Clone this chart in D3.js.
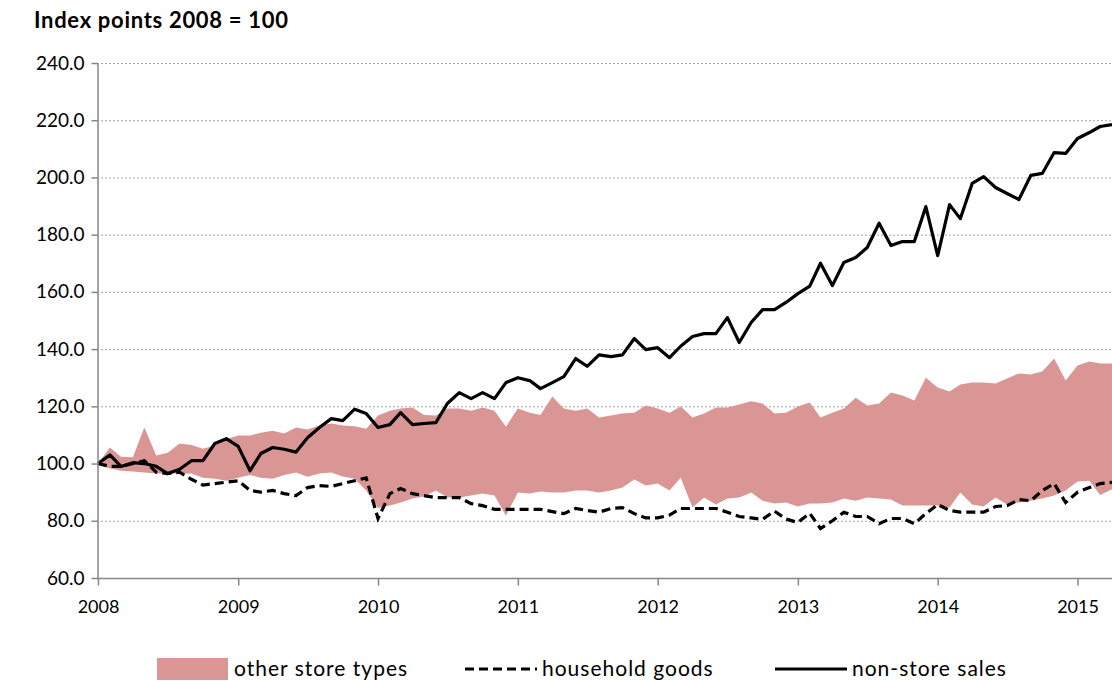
<!DOCTYPE html>
<html>
<head>
<meta charset="utf-8">
<script src="https://cdn.jsdelivr.net/npm/d3@7"></script>
<style>
  html, body { margin: 0; padding: 0; background: #fff; }
  svg { display: block; font-family: Lato, 'Open Sans', sans-serif; }
</style>
</head>
<body>
<div id="chart"></div>
<script>
// monthly index, Jan 2008 .. Apr 2015 (2008 = 100)
const startMonth = new Date(2008, 0, 1);
const endMonth = new Date(2015, 3, 1);

const nonStoreSales = [
  100, 103, 99, 100.3, 100, 99, 96.5, 98, 101, 101, 107, 108.7,
  106, 97.5, 103.5, 105.6, 105, 104, 109, 112.6, 115.7, 115, 119, 117.5,
  112.6, 113.6, 117.8, 113.6, 114, 114.3, 121, 124.8, 122.7, 124.8, 122.7, 128.3,
  130, 129, 126.2, 128.3, 130.4, 136.7, 134, 138, 137.4, 138, 143.7, 139.8,
  140.5, 137, 141, 144.4, 145.4, 145.4, 151, 142.3, 149.3, 153.8, 153.8, 156.3,
  159.4, 162, 170, 162.2, 170.3, 172, 175.5, 184, 176.2, 177.6, 177.6, 189.8,
  172.7, 190.5, 185.6, 197.9, 200.3, 196.5, 194.4, 192.3, 200.7, 201.4, 208.7, 208.4,
  213.6, 215.7, 217.8, 218.5
];

const householdGoods = [
  100, 99, 99, 100, 101, 97, 96.5, 97, 94.5, 92.5, 93, 93.5,
  94, 90.6, 90, 90.6, 89.5, 88.8, 91.6, 92.3, 92, 93, 94, 95,
  80.8, 89.5, 91.3, 89.5, 88.8, 88.1, 88.1, 88.1, 86, 85.3, 84, 84,
  84, 84, 84, 83.2, 82.5, 84.3, 83.6, 83, 84.3, 84.6, 82.5, 81,
  81, 82, 84.3, 84.3, 84.3, 84.3, 83, 81.5, 81, 80.5, 83.4, 80.6,
  79.4, 82.6, 77.3, 80, 83, 81.5, 81.5, 79, 80.8, 80.8, 79, 82.5,
  85.7, 83.6, 83, 83, 83, 85, 85.3, 87.4, 87, 90.6, 93, 86.4,
  90, 91.6, 93, 93.4
];

// range of the other store types (top and bottom of the band)
const otherStoreHigh = [
  100, 105.6, 102.4, 102.2, 112.6, 102.8, 103.8, 107, 106.5, 105.2, 106.3, 108.5,
  109.8, 109.8, 110.8, 111.5, 110.5, 112.6, 111.9, 113.3, 114, 113.3, 113, 112.2,
  116.8, 118.5, 119.2, 119.6, 117, 116.8, 119.2, 119.2, 118.5, 119.6, 118.5, 112.9,
  119.2, 117.8, 117, 123.4, 119.2, 118.5, 119.2, 116.1, 116.8, 117.5, 117.8, 120.3,
  119.2, 117.8, 119.9, 116.1, 117.5, 119.6, 119.6, 120.6, 121.8, 121, 117.5, 117.8,
  119.9, 121.3, 116.1, 117.8, 119.2, 123, 120.3, 121, 124.8, 123.8, 122, 130,
  126.6, 125.2, 127.6, 128.3, 128.3, 128, 129.7, 131.5, 131.1, 132.2, 136.7, 129,
  134.3, 135.7, 135, 135
];

const otherStoreLow = [
  99.5, 98.3, 97.5, 97.2, 96.9, 96.5, 96.5, 96.5, 96.5, 95, 94.7, 94,
  95, 96, 95, 94.7, 96, 96.9, 95.4, 96.5, 96.9, 95.5, 94.7, 90.6,
  84.5, 85.3, 86.4, 87.8, 88.5, 90.6, 88.1, 88.1, 88.8, 89.5, 88.8, 81.8,
  89.9, 89.5, 90.2, 89.9, 89.9, 90.6, 90.6, 89.9, 90.6, 91.6, 94.4, 92.3,
  93, 90.6, 95, 84.6, 88.1, 85.7, 87.8, 88.1, 89.9, 87, 86, 86.4,
  85, 86, 86, 86.4, 87.8, 87, 88.1, 87.8, 87.4, 85.3, 85.3, 85.3,
  85.3, 84.6, 89.9, 85.7, 85, 88.1, 85.7, 86.4, 87, 87.8, 88.8, 90.6,
  93.7, 94, 89, 91
];

const yTicks = [60, 80, 100, 120, 140, 160, 180, 200, 220, 240];
const yearLabels = ['2008', '2009', '2010', '2011', '2012', '2013', '2014', '2015'];

const legendItems = [
  { key: 'band', label: 'other store types' },
  { key: 'dashed', label: 'household goods' },
  { key: 'solid', label: 'non-store sales' }
];

const PINK = '#d99694';
const width = 1112;
const height = 681;

const months = d3.timeMonth.range(startMonth, d3.timeMonth.offset(endMonth, 1));
const rows = months.map((date, i) => ({
  date,
  nonStore: nonStoreSales[i],
  household: householdGoods[i],
  high: otherStoreHigh[i],
  low: otherStoreLow[i]
}));

const svg = d3.select('#chart').append('svg').attr('width', width).attr('height', height);

const x = d3.scaleTime().domain([startMonth, endMonth]).range([98, 1112]);
const y = d3.scaleLinear().domain([60, 240]).range([578, 63]);

svg.append('text')
  .attr('x', 34)
  .attr('y', 28)
  .attr('font-size', 22)
  .attr('font-weight', 700)
  .attr('letter-spacing', 0.7)
  .attr('fill', '#000')
  .text('Index points 2008 = 100');

// dotted gridlines
svg.append('g')
  .selectAll('line')
  .data(yTicks.filter((d) => d > 60))
  .join('line')
  .attr('x1', 97)
  .attr('x2', width)
  .attr('y1', (d) => y(d) + 0.5)
  .attr('y2', (d) => y(d) + 0.5)
  .attr('stroke', '#a6a6a6')
  .attr('stroke-width', 1)
  .attr('stroke-dasharray', '2,2');

const plot = svg.append('g');

plot.append('path')
  .datum(rows)
  .attr('fill', PINK)
  .attr('d', d3.area().x((d) => x(d.date)).y0((d) => y(d.low)).y1((d) => y(d.high)));

plot.append('path')
  .datum(rows)
  .attr('fill', 'none')
  .attr('stroke', '#000')
  .attr('stroke-width', 3.2)
  .attr('stroke-dasharray', '9,5')
  .attr('d', d3.line().x((d) => x(d.date)).y((d) => y(d.household)));

plot.append('path')
  .datum(rows)
  .attr('fill', 'none')
  .attr('stroke', '#000')
  .attr('stroke-width', 3.2)
  .attr('stroke-linejoin', 'round')
  .attr('d', d3.line().x((d) => x(d.date)).y((d) => y(d.nonStore)));

// axes
const yAxis = svg.append('g')
  .attr('transform', 'translate(97.5,0)')
  .call(d3.axisLeft(y).tickValues(yTicks).tickFormat(d3.format('.1f')).tickSize(6).tickSizeOuter(0).tickPadding(7));

const yearDates = yearLabels.map((label) => new Date(+label, 0, 1));
const xAxis = svg.append('g')
  .attr('transform', 'translate(0,578.5)')
  .call(d3.axisBottom(x).tickValues(yearDates).tickFormat(d3.timeFormat('%Y')).tickSize(7).tickSizeOuter(0).tickPadding(15));

xAxis.select('.domain').attr('d', `M97,0H${width}`);

[yAxis, xAxis].forEach((axis) => {
  axis.select('.domain').attr('stroke', '#868686').attr('stroke-width', 1.5);
  axis.selectAll('.tick line').attr('stroke', '#868686').attr('stroke-width', 1.5);
  axis.selectAll('.tick text')
    .attr('font-family', 'Lato, sans-serif')
    .attr('font-size', 19)
    .attr('fill', '#000');
});
xAxis.selectAll('.tick text').attr('font-size', 18);

// legend
const legend = svg.append('g').attr('transform', 'translate(0,669)');
const legendX = [157, 465, 775];

legendItems.forEach((item, i) => {
  const g = legend.append('g').attr('transform', `translate(${legendX[i]},0)`);
  if (item.key === 'band') {
    g.append('rect').attr('x', 0).attr('y', -11).attr('width', 71).attr('height', 22).attr('fill', PINK);
  } else {
    g.append('line')
      .attr('x1', 0).attr('x2', 72)
      .attr('y1', 0).attr('y2', 0)
      .attr('stroke', '#000')
      .attr('stroke-width', 3)
      .attr('stroke-dasharray', item.key === 'dashed' ? '9,5' : null);
  }
  g.append('text')
    .attr('x', 77)
    .attr('y', 0)
    .attr('dy', '0.35em')
    .attr('font-size', 21)
    .attr('letter-spacing', 1)
    .attr('fill', '#000')
    .text(item.label);
});
</script>
</body>
</html>
